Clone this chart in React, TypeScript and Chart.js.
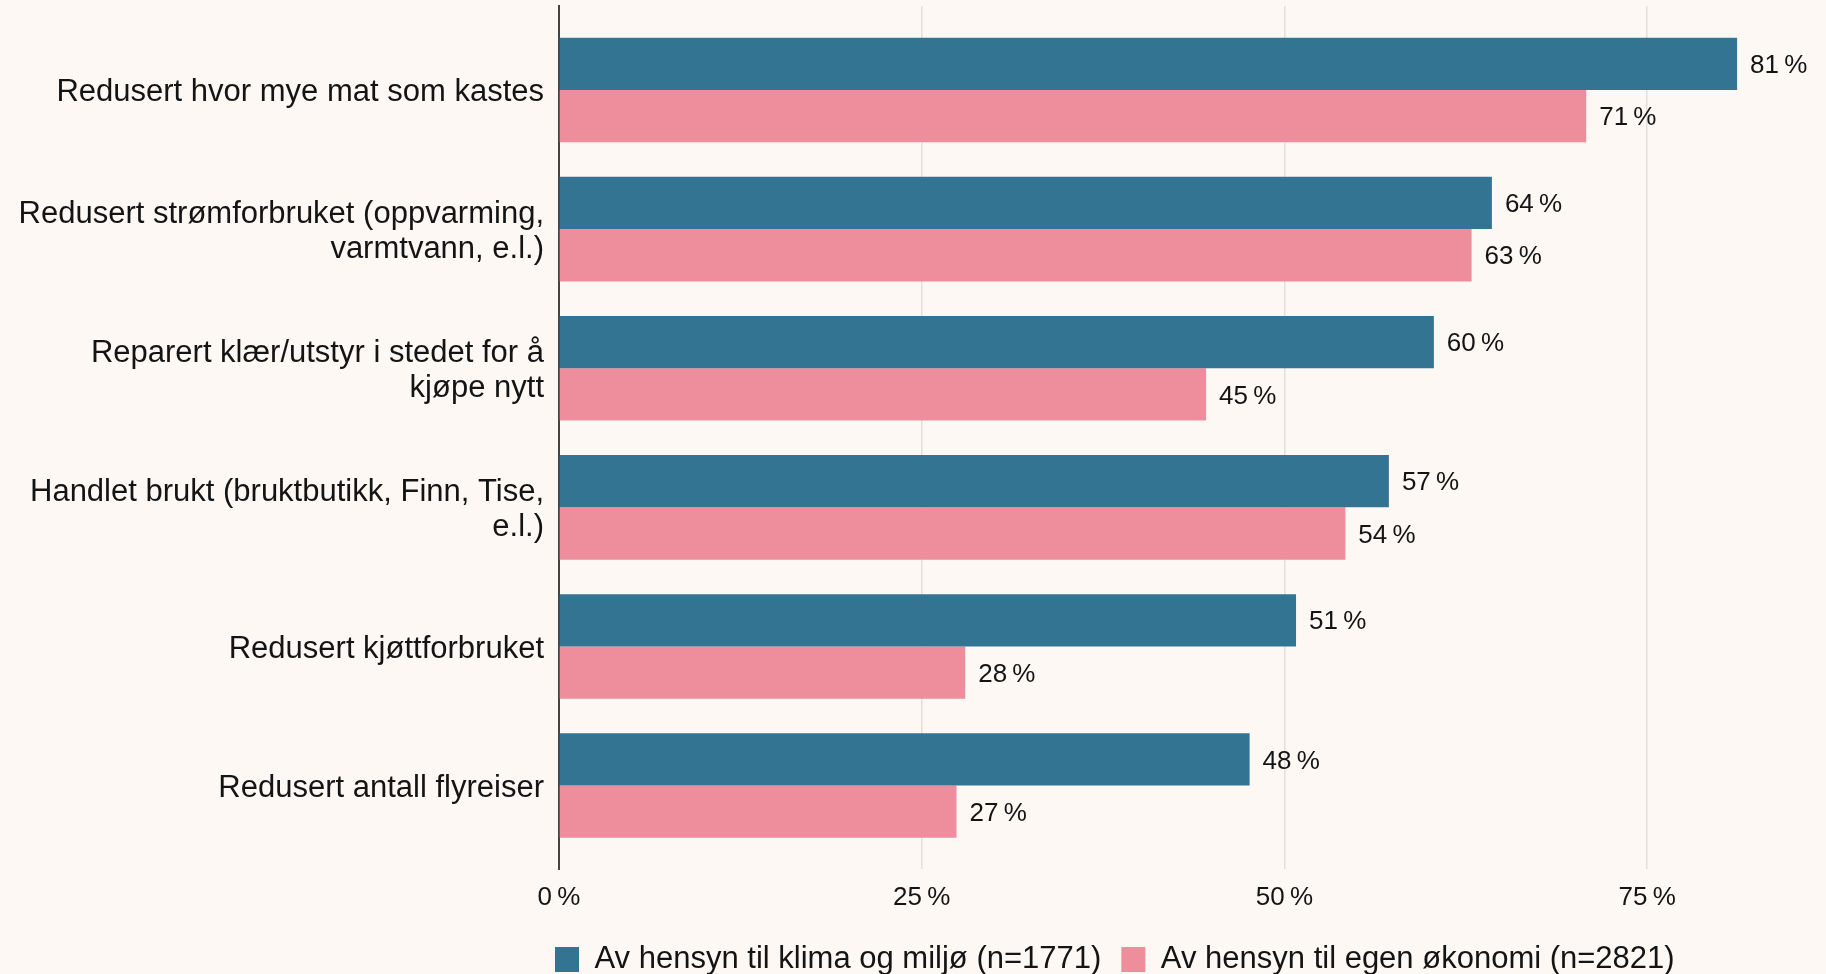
import React, { useEffect, useRef } from "react";
import { Chart, registerables } from "chart.js";

Chart.register(...registerables);

const categories: (string | string[])[] = [
  "Redusert hvor mye mat som kastes",
  ["Redusert strømforbruket (oppvarming,", "varmtvann, e.l.)"],
  ["Reparert klær/utstyr i stedet for å", "kjøpe nytt"],
  ["Handlet brukt (bruktbutikk, Finn, Tise,", "e.l.)"],
  "Redusert kjøttforbruket",
  "Redusert antall flyreiser",
];

const seriesNames = [
  "Av hensyn til klima og miljø (n=1771)",
  "Av hensyn til egen økonomi (n=2821)",
];

const klimaValues = [81.2, 64.3, 60.3, 57.2, 50.8, 47.6];
const okonomiValues = [70.8, 62.9, 44.6, 54.2, 28.0, 27.4];

const xTicks = [0, 25, 50, 75];

const FONT = "'Liberation Sans', Arial, Helvetica, sans-serif";
const BG = "#fdf8f4";
const BLUE = "#347493";
const PINK = "#ee8d9c";

const pct = (v: number) => `${Math.round(v)}\u2009%`;

const dataLabels = {
  id: "dataLabels",
  afterDatasetsDraw(chart: any) {
    const ctx = chart.ctx;
    ctx.save();
    ctx.font = `26px ${FONT}`;
    ctx.fillStyle = "#141414";
    ctx.textAlign = "left";
    ctx.textBaseline = "middle";
    chart.data.datasets.forEach((ds: any, di: number) => {
      const meta = chart.getDatasetMeta(di);
      meta.data.forEach((el: any, i: number) => {
        const v = ds.data[i].x;
        ctx.fillText(pct(v), el.x + 13, el.y + 2);
      });
    });
    ctx.restore();
  },
};

const LEGEND_PAD = 20;
const legendPlace = {
  id: "legendPlace",
  afterLayout(chart: any) {
    const lg = chart.legend;
    if (!lg) return;
    const w = lg.right - lg.left;
    const h = lg.bottom - lg.top;
    lg.left = 555 - LEGEND_PAD;
    lg.right = lg.left + w;
    lg.top = 944 - LEGEND_PAD;
    lg.bottom = lg.top + h;
  },
};

// small downward nudge of the category labels (in category units)
const LABEL_NUDGE = 0.02;

export default function App() {
  const ref = useRef<HTMLCanvasElement | null>(null);

  useEffect(() => {
    if (!ref.current) return;
    const chart = new Chart(ref.current, {
      type: "bar",
      data: {
        datasets: [
          {
            label: seriesNames[0],
            data: klimaValues.map((v, i) => ({ x: v, y: i })),
            backgroundColor: BLUE,
            borderWidth: 0,
            categoryPercentage: 0.752,
            barPercentage: 1,
          },
          {
            label: seriesNames[1],
            data: okonomiValues.map((v, i) => ({ x: v, y: i })),
            backgroundColor: PINK,
            borderWidth: 0,
            categoryPercentage: 0.752,
            barPercentage: 1,
          },
        ],
      },
      options: {
        animation: false,
        responsive: false,
        indexAxis: "y",
        layout: { padding: { top: 6, right: 12, bottom: 0, left: 0 } },
        scales: {
          x: {
            type: "linear",
            min: 0,
            max: 86.5,
            offset: false,
            afterBuildTicks: (s: any) => {
              s.ticks = xTicks.map((v) => ({ value: v }));
            },
            afterFit: (s: any) => {
              s.height = 44;
              s.paddingLeft = 0;
              s.paddingRight = 0;
            },
            grid: { color: "#e2dfdc", lineWidth: 1.5, drawTicks: false },
            border: { display: false },
            ticks: {
              padding: 13,
              color: "#141414",
              font: { family: FONT, size: 26 },
              callback: (v: any) => pct(Number(v)),
            },
          },
          y: {
            type: "linear",
            reverse: true,
            offset: false,
            min: -0.604,
            max: 5.6,
            afterBuildTicks: (s: any) => {
              s.ticks = categories.map((_, i) => ({ value: i + LABEL_NUDGE }));
            },
            afterFit: (s: any) => {
              s.width = 559;
              s.paddingTop = 0;
              s.paddingBottom = 0;
            },
            grid: { display: false, drawTicks: false },
            border: { display: true, color: "#444444", width: 2 },
            ticks: {
              padding: 15,
              color: "#141414",
              font: { family: FONT, size: 31, lineHeight: 1.13 },
              callback: (v: any) => categories[Math.round(Number(v))] ?? "",
            },
          },
        },
        plugins: {
          legend: {
            position: "bottom",
            align: "start",
            labels: {
              boxWidth: 24,
              boxHeight: 25,
              padding: LEGEND_PAD,
              color: "#141414",
              font: { family: FONT, size: 31 },
            },
          },
          tooltip: { enabled: false },
        },
      },
      plugins: [dataLabels, legendPlace],
    } as any);
    return () => chart.destroy();
  }, []);

  return (
    <div
      style={{
        position: "fixed",
        left: 0,
        top: 0,
        width: 1826,
        height: 974,
        overflow: "hidden",
        background: BG,
      }}
    >
      <canvas ref={ref} width={1826} height={974} style={{ display: "block" }} />
    </div>
  );
}
